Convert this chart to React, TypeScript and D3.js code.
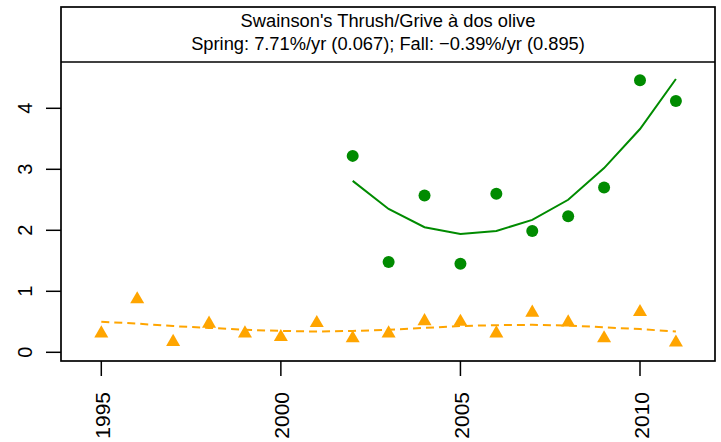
import React from "react";
import * as d3 from "d3";

const springYears = [2002, 2003, 2004, 2005, 2006, 2007, 2008, 2009, 2010, 2011];
const springValues = [3.22, 1.48, 2.57, 1.45, 2.6, 1.99, 2.23, 2.7, 4.46, 4.12];
const springFit = [2.81, 2.35, 2.05, 1.94, 1.99, 2.17, 2.5, 3.02, 3.66, 4.48];

const fallYears = [1995, 1996, 1997, 1998, 1999, 2000, 2001, 2002, 2003, 2004, 2005, 2006, 2007, 2008, 2009, 2010, 2011];
const fallValues = [0.31, 0.87, 0.17, 0.47, 0.31, 0.25, 0.48, 0.23, 0.31, 0.51, 0.5, 0.31, 0.65, 0.49, 0.23, 0.66, 0.16];
const fallFit = [0.5, 0.47, 0.43, 0.4, 0.37, 0.35, 0.34, 0.35, 0.37, 0.4, 0.43, 0.445, 0.45, 0.44, 0.41, 0.38, 0.34];

const xTicks = [1995, 2000, 2005, 2010];
const yTicks = [0, 1, 2, 3, 4];
const titleLines = [
  "Swainson's Thrush/Grive à dos olive",
  "Spring: 7.71%/yr (0.067); Fall: \u22120.39%/yr (0.895)",
];

const GREEN = "#008B00";
const ORANGE = "#FFA500";
const FONT = "'Liberation Sans', Arial, Helvetica, sans-serif";

export default function App() {
  const W = 721;
  const H = 442;
  const left = 61, right = 715, top = 7, bottom = 361, headerBottom = 62;

  const x = d3.scaleLinear().domain([1995, 2010]).range([101.3, 640]);
  const y = d3.scaleLinear().domain([0, 4]).range([352.3, 108.3]);

  const line = d3
    .line<[number, number]>()
    .x((d) => x(d[0]))
    .y((d) => y(d[1]));

  const springLine = line(springYears.map((yr, i) => [yr, springFit[i]]));
  const fallLine = line(fallYears.map((yr, i) => [yr, fallFit[i]]));

  const s = 5.2;
  const tri = (cx: number, cy: number) => {
    const r = 1.555 * s, xc = 1.347 * s, yc = 0.778 * s;
    return `M${cx},${cy - r}L${cx + xc},${cy + yc}L${cx - xc},${cy + yc}Z`;
  };

  return (
    <svg
      width={W}
      height={H}
      style={{ position: "absolute", left: 0, top: 0, background: "#fff" }}
      fontFamily={FONT}
    >
      <rect x={0} y={0} width={W} height={H} fill="#fff" />
      {/* fall fit */}
      <path d={fallLine || ""} fill="none" stroke={ORANGE} strokeWidth={2} strokeDasharray="8,5" />
      {/* spring fit */}
      <path d={springLine || ""} fill="none" stroke={GREEN} strokeWidth={2} />
      {fallYears.map((yr, i) => (
        <path key={"f" + yr} d={tri(x(yr), y(fallValues[i]))} fill={ORANGE} />
      ))}
      {springYears.map((yr, i) => (
        <circle key={"s" + yr} cx={x(yr)} cy={y(springValues[i])} r={6} fill={GREEN} />
      ))}
      {/* frame */}
      <rect x={left} y={top} width={right - left} height={bottom - top} fill="none" stroke="#000" strokeWidth={1.7} />
      <line x1={left} x2={right} y1={headerBottom} y2={headerBottom} stroke="#000" strokeWidth={1.7} />
      {titleLines.map((t, i) => (
        <text
          key={i}
          x={(left + right) / 2}
          y={i === 0 ? 27 : 50}
          textAnchor="middle"
          fontSize={18.3}
          fill="#000"
        >
          {t}
        </text>
      ))}
      {/* x axis */}
      {xTicks.map((t) => (
        <g key={"x" + t}>
          <line x1={x(t)} x2={x(t)} y1={bottom} y2={376} stroke="#000" strokeWidth={1.5} />
          <text
            transform={`translate(${x(t) + 8.5},392) rotate(-90)`}
            textAnchor="end"
            fontSize={21}
            fill="#000"
          >
            {t}
          </text>
        </g>
      ))}
      {/* y axis */}
      {yTicks.map((t) => (
        <g key={"y" + t}>
          <line x1={46} x2={left} y1={y(t)} y2={y(t)} stroke="#000" strokeWidth={1.5} />
          <text
            transform={`translate(31.7,${y(t)}) rotate(-90)`}
            textAnchor="middle"
            fontSize={20}
            fill="#000"
          >
            {t}
          </text>
        </g>
      ))}
    </svg>
  );
}
